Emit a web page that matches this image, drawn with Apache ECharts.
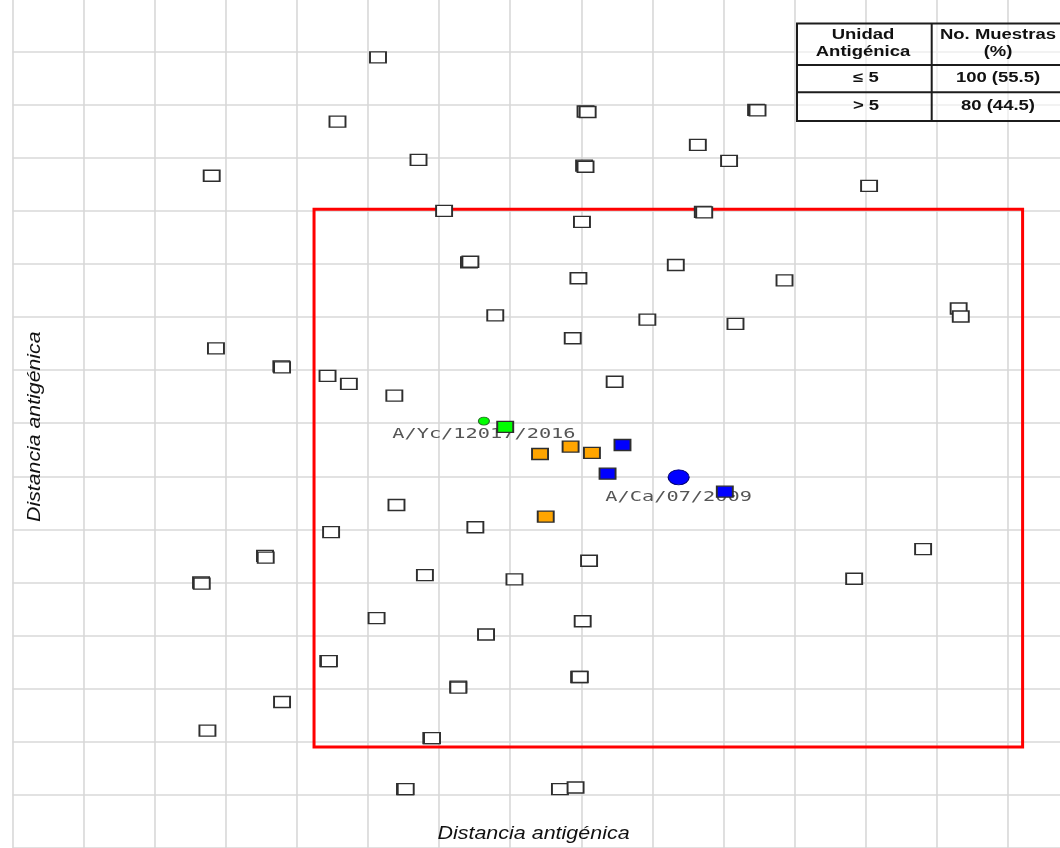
<!DOCTYPE html>
<html>
<head>
<meta charset="utf-8">
<script src="https://cdn.jsdelivr.net/npm/echarts@6/dist/echarts.min.js"></script>
<style>
  html, body { margin: 0; padding: 0; background: #ffffff; }
  #chart { width: 1060px; height: 848px; }
</style>
</head>
<body>
<div id="chart"></div>
<script>
// Antigenic map: coordinates in antigenic units (one grid cell = 1 unit)

// Field samples (open squares); near-duplicates are overlapping strains
const muestras = [
  [5.14, 14.89],
  [8.06, 13.87], [8.09, 13.86],
  [10.46, 13.90], [10.48, 13.89],
  [4.57, 13.68],
  [9.64, 13.24],
  [5.71, 12.96],
  [10.08, 12.94],
  [8.04, 12.85], [8.06, 12.83],
  [2.80, 12.66],
  [12.05, 12.47],
  [6.07, 12.00],
  [9.71, 11.98], [9.73, 11.97],
  [8.01, 11.79],
  [6.42, 11.03], [6.44, 11.04],
  [9.33, 10.98],
  [7.96, 10.73],
  [10.86, 10.69],
  [13.31, 10.16],
  [13.34, 10.01],
  [6.79, 10.03],
  [8.93, 9.95],
  [10.17, 9.87],
  [7.88, 9.60],
  [2.86, 9.41],
  [3.78, 9.07], [3.79, 9.05],
  [4.43, 8.89],
  [4.73, 8.74],
  [8.47, 8.78],
  [5.37, 8.52],
  [5.40, 6.46],
  [6.51, 6.04],
  [4.48, 5.95],
  [3.55, 5.50], [3.56, 5.47],
  [8.11, 5.41],
  [12.81, 5.63],
  [2.65, 5.00], [2.66, 4.98],
  [5.80, 5.14],
  [7.06, 5.06],
  [11.84, 5.07],
  [5.12, 4.33],
  [8.02, 4.27],
  [6.66, 4.02],
  [4.44, 3.52], [4.45, 3.52],
  [7.97, 3.22], [7.98, 3.22],
  [6.27, 3.04], [6.27, 3.02],
  [3.79, 2.75],
  [2.74, 2.21],
  [5.89, 2.07], [5.90, 2.07],
  [5.52, 1.11], [5.53, 1.11],
  [7.70, 1.11],
  [7.92, 1.14]
];

// Highlighted sample groups
const muestrasNaranja = [[7.42, 7.42], [7.85, 7.56], [8.15, 7.44], [7.50, 6.24]];
const muestrasAzul = [[8.58, 7.59], [8.37, 7.05], [10.02, 6.71]];
const muestraVerde = [[6.93, 7.93]];

// Reference antigens
const refYucatan = [[6.63, 8.04]];
const refCalifornia = [[9.37, 6.98]];
const etiquetasRef = ['A/Yc/12017/2016', 'A/Ca/07/2009'];
const posicionesRef = [refYucatan[0], refCalifornia[0]];

// Zone of ≤ 5 antigenic units: [left, top], [right, bottom]
const zonaLimites = [[4.24, 12.03], [14.21, 1.90]];

// Summary table
const tablaEncabezado = [['Unidad', 'Antigénica'], ['No. Muestras', '(%)']];
const tablaFilas = [['≤ 5', '100 (55.5)'], ['> 5', '80 (44.5)']];

const tituloEje = 'Distancia antigénica';

const chart = echarts.init(document.getElementById('chart'), null, { renderer: 'canvas' });

const squareStyle = (fill) => ({
  color: fill, borderColor: '#2e2e2e', borderWidth: 1.6, opacity: 1
});

// table graphics
const tX0 = 797, tX1 = 931.7, tX2 = 1066;
const tRows = [23.5, 65, 92.3, 121];
const tablaFont = 'bold 14px "Liberation Sans", Arial, sans-serif';
const tablaGraphic = [];
tablaGraphic.push({
  type: 'rect', z: 100,
  shape: { x: tX0, y: tRows[0], width: tX2 - tX0, height: tRows[3] - tRows[0] },
  style: { fill: 'rgba(255,255,255,0.55)', stroke: '#1c1c1c', lineWidth: 2 }
});
tablaGraphic.push({
  type: 'line', z: 101,
  shape: { x1: tX1, y1: tRows[0], x2: tX1, y2: tRows[3] },
  style: { stroke: '#1c1c1c', lineWidth: 2 }
});
[tRows[1], tRows[2]].forEach(y => tablaGraphic.push({
  type: 'line', z: 101,
  shape: { x1: tX0, y1: y, x2: tX2, y2: y },
  style: { stroke: '#1c1c1c', lineWidth: 2 }
}));
const colCenters = [863, 998];
const headLines = [35.5, 52.3];
tablaEncabezado.forEach((lines, c) => {
  lines.forEach((t, i) => tablaGraphic.push({
    type: 'text', z: 102, x: colCenters[c], y: headLines[i], scaleX: 1.32,
    style: { text: t, font: tablaFont, fill: '#111', align: 'center', verticalAlign: 'middle' }
  }));
});
const rowCenters = [78, 106];
tablaFilas.forEach((row, r) => {
  row.forEach((t, c) => tablaGraphic.push({
    type: 'text', z: 102, x: colCenters[c] + (c === 0 ? 3 : 0), y: rowCenters[r], scaleX: 1.32,
    style: { text: t, font: tablaFont, fill: '#111', align: 'center', verticalAlign: 'middle' }
  }));
});

const tituloFont = 'italic 19px "Liberation Sans", Arial, sans-serif';
const titulos = [
  {
    type: 'text', z: 50, x: 533.5, y: 834, scaleX: 1.13,
    style: { text: tituloEje, font: tituloFont, fill: '#111', align: 'center', verticalAlign: 'middle' }
  },
  {
    type: 'text', z: 50, x: 35, y: 426.7, rotation: Math.PI / 2, scaleX: 1.12,
    style: { text: tituloEje, font: tituloFont, fill: '#111', align: 'center', verticalAlign: 'middle' }
  }
];

const labelOffsets = [13.5, 19.6];

chart.setOption({
  animation: false,
  backgroundColor: '#ffffff',
  // one antigenic unit = 71.07 px horizontally, 53.1 px vertically
  grid: {
    left: 12.7, top: -1.6, width: 1066.05, height: 849.6,
    containLabel: false, outerBoundsMode: 'none'
  },
  xAxis: {
    type: 'value', min: 0, max: 15, interval: 1,
    axisLine: { show: false }, axisTick: { show: false }, axisLabel: { show: false },
    splitLine: { show: true, lineStyle: { color: '#d8d8d8', width: 1.6 } }
  },
  yAxis: {
    type: 'value', min: 0, max: 16, interval: 1,
    axisLine: { show: false }, axisTick: { show: false }, axisLabel: { show: false },
    splitLine: { show: true, lineStyle: { color: '#d8d8d8', width: 1.6 } }
  },
  graphic: tablaGraphic.concat(titulos),
  series: [
    {
      type: 'custom', z: 2, silent: true,
      data: posicionesRef,
      renderItem: (params, api) => {
        const p = api.coord([api.value(0), api.value(1)]);
        return {
          type: 'text', x: p[0], y: p[1] + labelOffsets[params.dataIndex], scaleX: 1.45,
          style: {
            text: etiquetasRef[params.dataIndex],
            font: '14px "DejaVu Sans Mono", monospace',
            fill: '#555555', align: 'center', verticalAlign: 'middle'
          }
        };
      }
    },
    {
      type: 'scatter', z: 3, silent: true,
      data: muestras, symbol: 'rect', symbolSize: [16, 11],
      itemStyle: squareStyle('#ffffff'),
      markArea: {
        silent: true,
        itemStyle: { color: 'rgba(0,0,0,0)', borderColor: '#ff0000', borderWidth: 3 },
        data: [[{ coord: zonaLimites[0] }, { coord: zonaLimites[1] }]]
      }
    },
    {
      type: 'scatter', z: 4, silent: true,
      data: muestrasNaranja, symbol: 'rect', symbolSize: [16, 11],
      itemStyle: squareStyle('#ffa500')
    },
    {
      type: 'scatter', z: 4, silent: true,
      data: muestrasAzul, symbol: 'rect', symbolSize: [16, 11],
      itemStyle: squareStyle('#0000ff')
    },
    {
      type: 'scatter', z: 4, silent: true,
      data: muestraVerde, symbol: 'rect', symbolSize: [16, 11],
      itemStyle: squareStyle('#00ff00')
    },
    {
      type: 'scatter', z: 4, silent: true,
      data: refYucatan, symbol: 'circle', symbolSize: [11, 8],
      itemStyle: { color: '#00ff00', borderColor: '#2a6e2a', borderWidth: 1, opacity: 1 }
    },
    {
      type: 'scatter', z: 4, silent: true,
      data: refCalifornia, symbol: 'circle', symbolSize: [21, 15],
      itemStyle: { color: '#0000ff', borderColor: '#00006e', borderWidth: 1, opacity: 1 }
    }
  ]
});
</script>
</body>
</html>
